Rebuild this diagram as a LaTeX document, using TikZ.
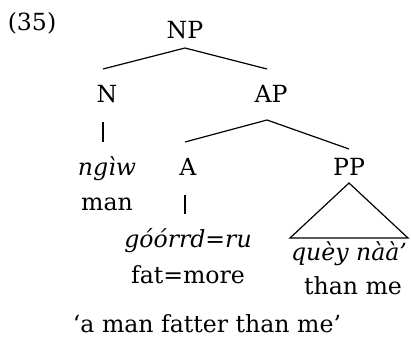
\documentclass[tikz,border=0pt]{standalone}
\usepackage{fontspec}
\setmainfont{DejaVu Serif}
\usetikzlibrary{calc}
\tikzset{
  lbl/.style={anchor=base, inner sep=0pt, font=\fontsize{11.8}{14}\selectfont},
  obj/.style={lbl, font=\fontsize{11.8}{14}\selectfont\itshape},
  branch/.style={line width=0.6pt}
}

\begin{document}
\begin{tikzpicture}[x=0.5pt, y=-0.5pt]
\useasboundingbox (0,0) rectangle (411,342);

\node[lbl] (ex) at (32,31) {(35)};

%節点
\node[lbl] (NP) at (185,39) {NP};
\node[lbl] (N) at (107,102) {N};
\node[lbl] (AP) at (271,102) {AP};
\node[lbl] (A) at (188,175) {A};
\node[lbl] (PP) at (349,175) {PP};

%語と訳
\node[obj] (ngiw) at (107,175) {ngìw};
\node[lbl] (man) at (107,210) {man};
\node[obj] (goorrd) at (188,247) {góórrd=ru};
\node[lbl] (fatmore) at (188,283) {fat=more};
\node[obj] (queynaa) at (349,260) {quèy nàà’};
\node[lbl] (thanme) at (353,294) {than me};
\node[lbl] (transl) at (207,332) {‘a man fatter than me’};

%枝
\draw[branch] ($(NP.base)+(0,9)$) -- ($(N.base)+(-4,-33)$);
\draw[branch] ($(NP.base)+(0,9)$) -- ($(AP.base)+(-4,-33)$);
\draw[branch] ($(N.base)+(-4,20)$) -- ($(ngiw.base)+(-4,-33)$);
\draw[branch] ($(AP.base)+(-4,18)$) -- ($(A.base)+(-3,-33)$);
\draw[branch] ($(AP.base)+(-4,18)$) -- ($(PP.base)+(0,-26)$);
\draw[branch] ($(A.base)+(-3,20)$) -- ($(goorrd.base)+(-3,-33)$);

%三角形
\draw[branch] ($(PP.base)+(0,8)$) -- ($(queynaa.base)+(-59,-22)$)
  -- ($(queynaa.base)+(59,-22)$) -- cycle;
\end{tikzpicture}
\end{document}
